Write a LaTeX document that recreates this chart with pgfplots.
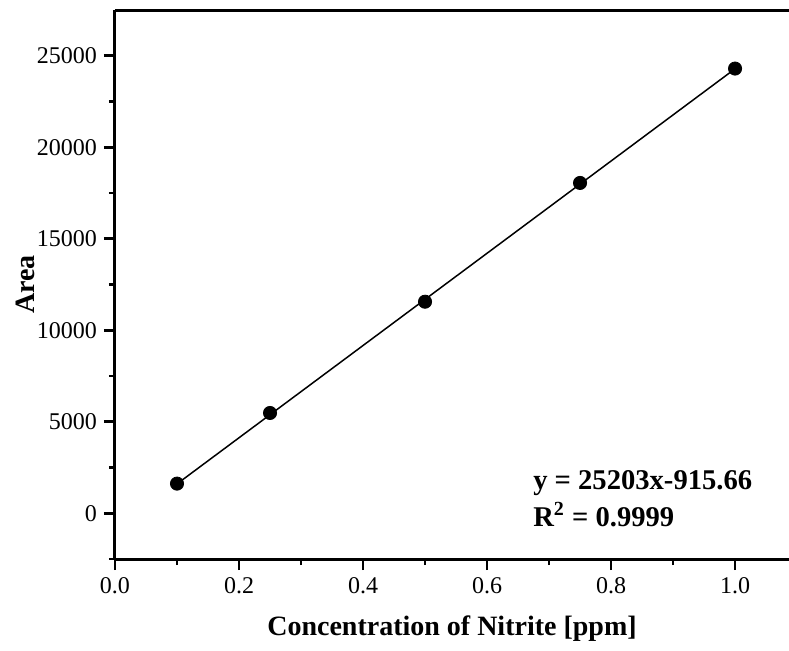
\documentclass[border=0pt]{standalone}
\usepackage{pgfplots}
\pgfplotsset{compat=1.18}
\usepackage{fontspec}
\setmainfont{Liberation Serif}
\begin{document}
\begin{tikzpicture}
\begin{axis}[
  scale only axis,
  width=337pt, height=274.5pt,
  xmin=0, xmax=1.087, ymin=-2500, ymax=27500,
  axis lines=left,
  axis line style={line width=1.5pt, -},
  xtick={0,0.2,...,1.0},
  minor xtick={0.1,0.3,0.5,0.7,0.9},
  ytick={0,5000,...,25000},
  minor ytick={-2500,2500,7500,12500,17500,22500},
  tick align=outside,
  major tick length=5.5pt, minor tick length=3pt,
  every tick/.style={line width=1.3pt, black},
  tick label style={font=\fontsize{12}{14}\selectfont},
  /pgf/number format/assume math mode=true,
  xticklabel style={/pgf/number format/fixed, /pgf/number format/fixed zerofill, /pgf/number format/precision=1},
  yticklabel style={/pgf/number format/fixed, /pgf/number format/1000 sep={}},
  scaled y ticks=false,
  xlabel={\textbf{Concentration of Nitrite [ppm]}},
  ylabel={\textbf{Area}},
  label style={font=\fontsize{14}{16}\selectfont},
  xlabel style={at={(axis description cs:0.5,-0.126)}, anchor=center},
  ylabel style={at={(axis description cs:-0.1335,0.5)}, anchor=center},
  clip=false,
]
\addplot[black, line width=0.75pt, no marks] coordinates {(0.1,1604.6) (1.0,24287.3)};
\addplot[only marks, mark=*, mark size=3.3pt, black] coordinates {
  (0.1,1620) (0.25,5480) (0.5,11560) (0.75,18050) (1.0,24300)};
\node[anchor=west, align=left, font=\fontsize{14.3}{18.5}\selectfont\bfseries, inner sep=0pt] at (axis cs:0.674,800) {y = 25203x-915.66\\R$^{\mathbf{2}}$ = 0.9999};
\draw[line width=1.5pt] (rel axis cs:0,1) -- (rel axis cs:1,1);
\end{axis}
\pgfresetboundingbox
\useasboundingbox (-57.5pt,-45.5pt) rectangle (337pt,279.5pt);
\end{tikzpicture}
\end{document}
